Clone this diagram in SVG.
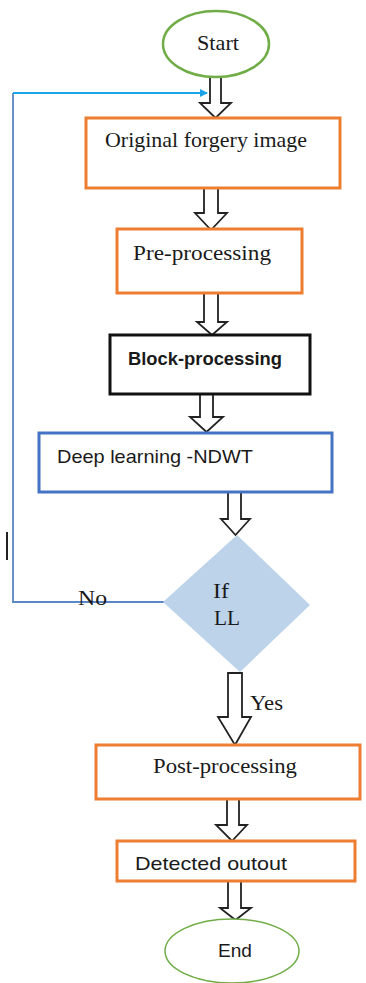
<svg xmlns="http://www.w3.org/2000/svg" width="366" height="983" viewBox="0 0 366 983">
<style>
.serif{font-family:"Liberation Serif","Times New Roman",serif;font-size:21px;fill:#1a1a1a}
.sans{font-family:"Liberation Sans",Arial,sans-serif;font-size:19px;fill:#1a1a1a}
.box{fill:#fff;stroke-width:3}
.orange{stroke:#ed7d31}
.barrow{fill:#fff;stroke:#222;stroke-width:1.8;stroke-linejoin:miter}
</style>
<defs>
<marker id="ah" markerWidth="8" markerHeight="8" refX="7" refY="4" orient="auto" markerUnits="userSpaceOnUse">
<path d="M0,0 L8,4 L0,8 Z" fill="#1aa3e8"/>
</marker>
</defs>
<rect width="366" height="983" fill="#fff"/>
<g id="connectors">
<path d="M165 602 H13 V93" fill="none" stroke="#5b86c8" stroke-width="1.8"/>
<path d="M13 93 H207" fill="none" stroke="#1aa3e8" stroke-width="1.8" marker-end="url(#ah)"/>
<line x1="7" y1="532" x2="7" y2="560" stroke="#222" stroke-width="2"/>
<path class="barrow" d="M210 77 H221 V103 H231 L215.5 118 L200 103 H210 Z"/>
<path class="barrow" d="M204 188 H218 V213 H227 L211 230 L195 213 H204 Z"/>
<path class="barrow" d="M204 293 H218 V322 H227 L212 335 L197 322 H204 Z"/>
<path class="barrow" d="M200 394 H213 V417 H223 L206.5 432 L190 417 H200 Z"/>
<path class="barrow" d="M228 492 H241 V519 H250 L235.5 535 L221 519 H228 Z"/>
<path class="barrow" d="M228 673 H242 V717 H251 L235 745 L218 717 H228 Z"/>
<path class="barrow" d="M227 799 H239 V825 H247 L232 841 L216 825 H227 Z"/>
<path class="barrow" d="M228 881 H241 V908 H251 L235.5 920 L220 908 H228 Z"/>
<text class="serif" x="78" y="605" textLength="29" lengthAdjust="spacingAndGlyphs">No</text>
<text class="serif" x="250" y="710" textLength="33" lengthAdjust="spacingAndGlyphs">Yes</text>
</g>
<g id="start">
<ellipse cx="216" cy="44" rx="53" ry="33" fill="#fff" stroke="#70ad47" stroke-width="2.5"/>
<text class="serif" x="197" y="50" textLength="42" lengthAdjust="spacingAndGlyphs">Start</text>
</g>
<g id="original">
<rect class="box orange" x="86" y="118" width="254" height="70"/>
<text class="serif" x="105" y="147" textLength="202" lengthAdjust="spacingAndGlyphs">Original forgery image</text>
</g>
<g id="preprocessing">
<rect class="box orange" x="117" y="229" width="185" height="64"/>
<text class="serif" x="133" y="260" textLength="138" lengthAdjust="spacingAndGlyphs">Pre-processing</text>
</g>
<g id="blockprocessing">
<rect class="box" x="110" y="335" width="200" height="59" stroke="#111"/>
<text class="sans" x="128" y="365" font-weight="bold" textLength="154" lengthAdjust="spacingAndGlyphs">Block-processing</text>
</g>
<g id="deeplearning">
<rect class="box" x="39" y="433" width="293" height="59" stroke="#4472c4"/>
<text class="sans" x="57" y="463" textLength="196" lengthAdjust="spacingAndGlyphs">Deep learning -NDWT</text>
</g>
<g id="decision">
<polygon points="237,535 310,605 240,672 163,602" fill="#bcd3ea"/>
<text class="serif" x="213" y="598" textLength="16" lengthAdjust="spacingAndGlyphs">If</text>
<text class="serif" x="214" y="625" textLength="26" lengthAdjust="spacingAndGlyphs">LL</text>
</g>
<g id="postprocessing">
<rect class="box orange" x="96" y="745" width="264" height="54"/>
<text class="serif" x="153" y="773" textLength="144" lengthAdjust="spacingAndGlyphs">Post-processing</text>
</g>
<g id="detected">
<rect class="box orange" x="117" y="841" width="238" height="40"/>
<text class="sans" x="135" y="870" textLength="152" lengthAdjust="spacingAndGlyphs">Detected outout</text>
</g>
<g id="end">
<ellipse cx="232" cy="951" rx="67" ry="32" fill="#fff" stroke="#70ad47" stroke-width="1.5"/>
<text class="sans" x="218" y="957" textLength="34" lengthAdjust="spacingAndGlyphs">End</text>
</g>
</svg>
